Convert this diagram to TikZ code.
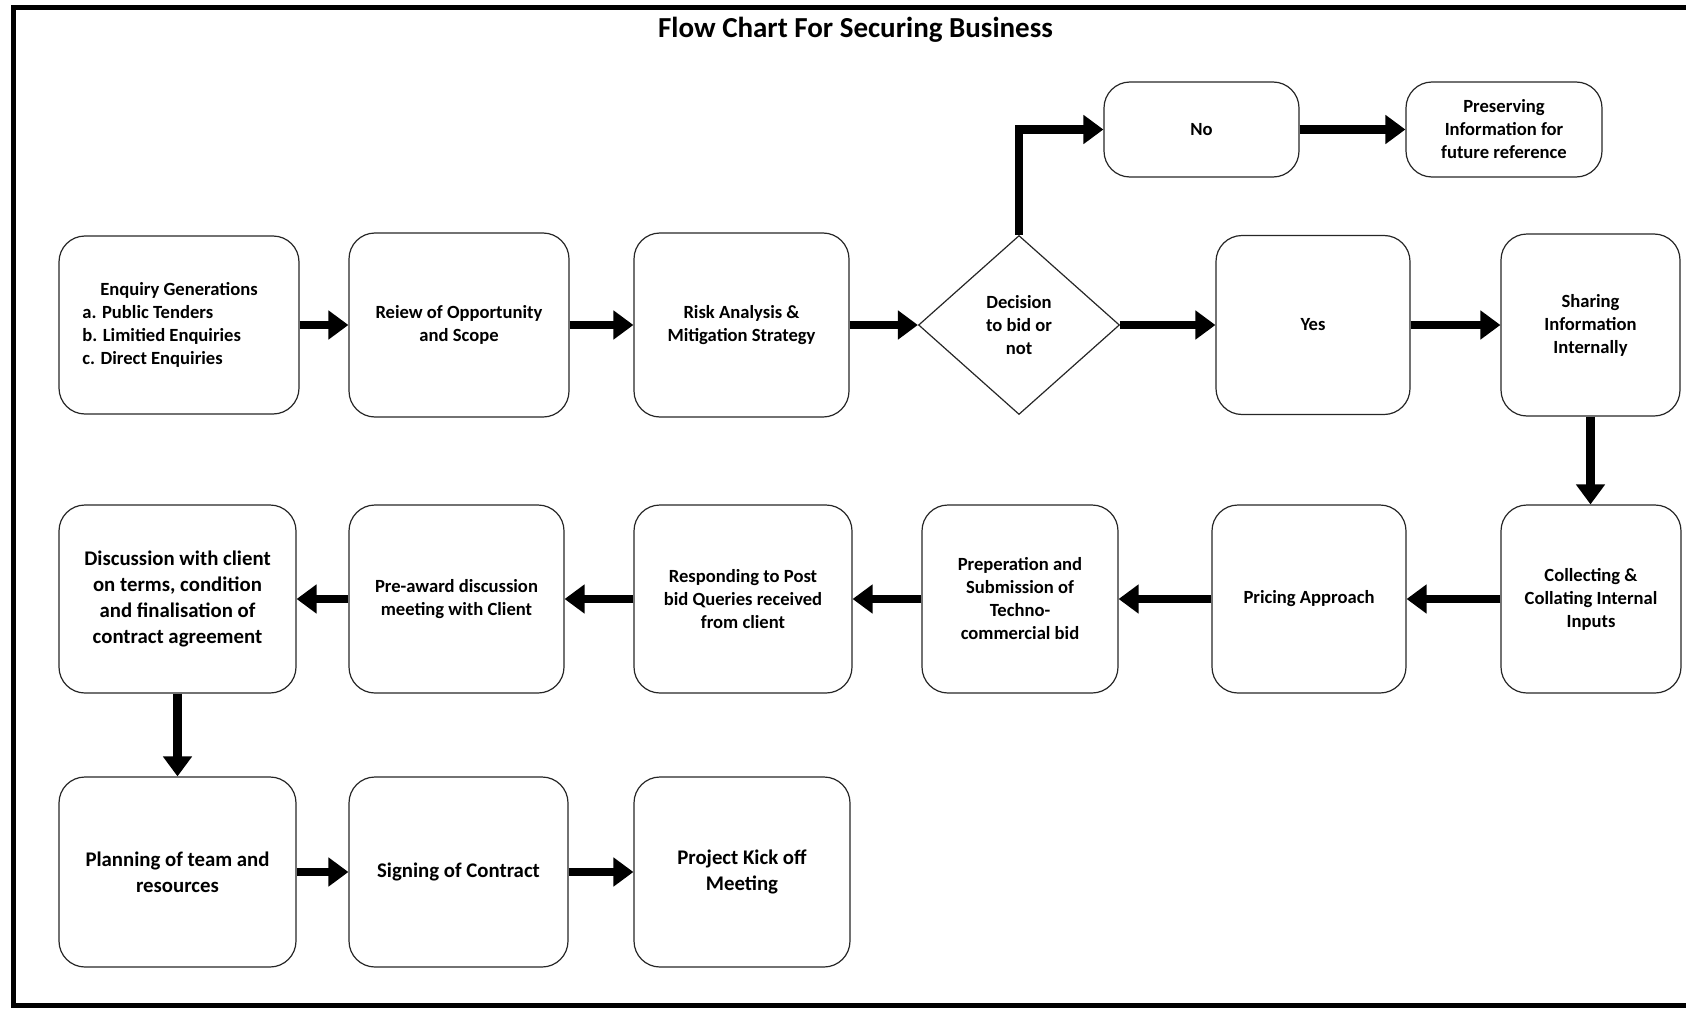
\documentclass[tikz,border=0pt]{standalone}
\usepackage{fontspec}
\setmainfont{Carlito}
\usetikzlibrary{arrows.meta,shapes.geometric}
\begin{document}
\begin{tikzpicture}[x=0.5pt,y=-0.5pt,
  box/.style={draw=black!85,line width=0.6pt,rounded corners=13pt,align=center,
    font=\bfseries\fontsize{9.3}{11.5}\selectfont,inner sep=2pt},
  bigbox/.style={box,font=\bfseries\fontsize{10.4}{12.9}\selectfont},
  dec/.style={draw=black!85,line width=0.6pt,diamond,align=center,inner sep=0pt,
    font=\bfseries\fontsize{9.3}{11.5}\selectfont},
  flow/.style={line width=4.2pt,-{Triangle[length=10pt,width=14pt]}},
  frame/.style={line width=2.3pt}]
\useasboundingbox (0,0) rectangle (1686,1011);
\draw[frame] (1700,7.5) -- (13.5,7.5) -- (13.5,1005.5) -- (1700,1005.5);
\node[font=\bfseries\fontsize{14.5}{16}\selectfont] (title) at (855.5,30) {Flow Chart For Securing Business};
% row 1
\node[box,minimum width=120pt,minimum height=89pt,align=left] (enq) at (179,325)
  {\hspace*{9pt}Enquiry Generations\hspace*{9pt}\\a. Public Tenders\\b. Limitied Enquiries\\c. Direct Enquiries};
\node[box,minimum width=110pt,minimum height=92pt] (rev) at (459,325) {Reiew of Opportunity\\and Scope};
\node[box,minimum width=107.5pt,minimum height=92pt] (risk) at (741.5,325) {Risk Analysis \&\\Mitigation Strategy};
\node[dec,minimum width=100.5pt,minimum height=89.5pt] (decn) at (1019,325) {Decision\\to bid or\\not};
\node[box,minimum width=97pt,minimum height=89.5pt] (yes) at (1313,325) {Yes};
\node[box,minimum width=89.5pt,minimum height=91pt] (share) at (1590.5,325) {Sharing\\Information\\Internally};
\node[box,minimum width=97.5pt,minimum height=47.5pt] (no) at (1201.5,129.5) {No};
\node[box,minimum width=98pt,minimum height=47.5pt] (pres) at (1504,129.5) {Preserving\\Information for\\future reference};
% row 2
\node[bigbox,minimum width=118.5pt,minimum height=94pt] (disc) at (177.5,599) {Discussion with client\\on terms, condition\\and finalisation of\\contract agreement};
\node[box,minimum width=107.5pt,minimum height=94pt] (pre) at (456.5,599) {Pre-award discussion\\meeting with Client};
\node[box,minimum width=109pt,minimum height=94pt] (resp) at (743,599) {Responding to Post\\bid Queries received\\from client};
\node[box,minimum width=98pt,minimum height=94pt] (prep) at (1020,599) {Preperation and\\Submission of\\Techno-\\commercial bid};
\node[box,minimum width=97pt,minimum height=94pt] (price) at (1309,599) {Pricing Approach};
\node[box,minimum width=90pt,minimum height=94pt] (coll) at (1591,599) {Collecting \&\\Collating Internal\\Inputs};
% row 3
\node[bigbox,minimum width=118.5pt,minimum height=95pt] (plan) at (177.5,872) {Planning of team and\\resources};
\node[bigbox,minimum width=109.5pt,minimum height=95pt] (sign) at (458.5,872) {Signing of Contract};
\node[bigbox,minimum width=108pt,minimum height=95pt] (kick) at (742,872) {Project Kick off\\Meeting};
% connectors
\draw[flow] (enq.east) -- (rev.west);
\draw[flow] (rev.east) -- (risk.west);
\draw[flow] (risk.east) -- (decn.west);
\draw[flow] (decn.east) -- (yes.west);
\draw[flow] (yes.east) -- (share.west);
\draw[flow] (decn.north) |- (no.west);
\draw[flow] (no.east) -- (pres.west);
\draw[flow] (share.south) -- (share.south |- coll.north);
\draw[flow] (coll.west) -- (price.east);
\draw[flow] (price.west) -- (prep.east);
\draw[flow] (prep.west) -- (resp.east);
\draw[flow] (resp.west) -- (pre.east);
\draw[flow] (pre.west) -- (disc.east);
\draw[flow] (disc.south) -- (plan.north);
\draw[flow] (plan.east) -- (sign.west);
\draw[flow] (sign.east) -- (kick.west);
\end{tikzpicture}
\end{document}
